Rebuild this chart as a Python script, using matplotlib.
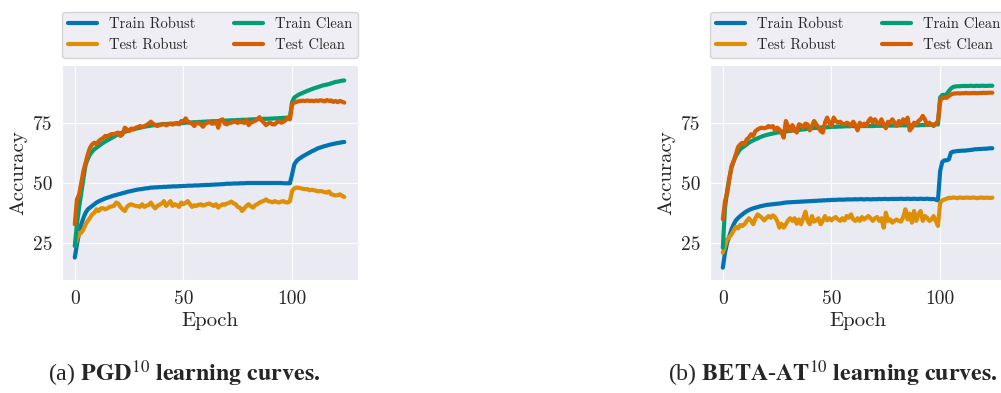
import numpy as np
import matplotlib
matplotlib.use("Agg")
import matplotlib.pyplot as plt
import seaborn as sns

# ---- data (accuracy in %, epochs 0..124) ----
epochs = np.arange(125)

pgd_train_robust = [
    19.1, 24.6, 29.4, 32.9, 35.6, 37.7, 39.1, 39.8, 40.5, 41.2,
    41.9, 42.4, 42.8, 43.2, 43.6, 43.9, 44.2, 44.5, 44.8, 45.0,
    45.3, 45.5, 45.8, 46.0, 46.3, 46.5, 46.7, 46.9, 47.1, 47.3,
    47.4, 47.5, 47.7, 47.8, 47.9, 48.1, 48.1, 48.2, 48.2, 48.3,
    48.3, 48.4, 48.4, 48.5, 48.5, 48.6, 48.6, 48.6, 48.7, 48.7,
    48.8, 48.8, 48.9, 48.9, 48.9, 49.0, 49.0, 49.0, 49.1, 49.1,
    49.2, 49.2, 49.2, 49.3, 49.3, 49.4, 49.4, 49.5, 49.5, 49.6,
    49.7, 49.7, 49.7, 49.8, 49.8, 49.8, 49.9, 49.9, 49.9, 50.0,
    50.0, 50.0, 50.0, 50.0, 50.0, 50.0, 50.0, 50.0, 50.0, 50.0,
    50.0, 50.0, 50.0, 50.0, 50.0, 50.0, 49.9, 49.9, 49.9, 49.9,
    53.6, 57.7, 59.1, 59.9, 60.5, 61.1, 61.6, 62.1, 62.6, 63.1,
    63.5, 64.0, 64.4, 64.7, 65.0, 65.3, 65.5, 65.8, 66.0, 66.2,
    66.4, 66.6, 66.7, 66.9, 67.0]
pgd_test_robust = [
    23.9, 26.7, 29.4, 29.4, 30.8, 32.9, 34.3, 35.6, 37.0, 37.7,
    39.1, 38.4, 39.5, 39.6, 39.1, 39.5, 40.1, 40.3, 40.5, 41.9,
    41.5, 40.1, 39.1, 38.4, 40.1, 40.9, 41.2, 40.8, 40.5, 40.4,
    40.1, 41.2, 40.1, 40.6, 40.9, 41.9, 40.5, 39.5, 40.5, 41.0,
    41.5, 42.5, 40.5, 41.5, 42.5, 40.5, 41.2, 40.8, 40.1, 41.9,
    41.2, 41.8, 42.5, 41.2, 40.1, 40.8, 40.5, 41.0, 41.2, 40.6,
    40.9, 41.3, 41.5, 40.9, 40.5, 41.2, 39.8, 40.6, 41.2, 41.0,
    41.5, 41.8, 42.3, 41.6, 41.2, 40.1, 39.8, 38.4, 39.5, 40.5,
    41.2, 40.4, 39.8, 40.8, 41.2, 41.9, 42.3, 42.6, 43.2, 42.5,
    42.3, 42.0, 42.5, 42.1, 41.9, 42.3, 42.5, 42.0, 41.9, 42.5,
    46.7, 47.8, 48.1, 48.0, 47.8, 47.6, 47.4, 47.5, 47.0, 47.2,
    47.0, 46.8, 46.5, 46.7, 46.5, 46.2, 46.0, 46.5, 45.3, 45.1,
    44.8, 45.0, 45.3, 44.7, 44.2]
pgd_train_clean = [
    23.9, 33.0, 40.0, 46.0, 52.0, 57.7, 60.0, 61.8, 63.0, 64.0,
    64.6, 65.3, 66.0, 66.6, 67.2, 67.7, 68.2, 68.7, 69.2, 69.7,
    70.2, 70.6, 70.9, 71.2, 71.5, 71.8, 72.1, 72.3, 72.5, 72.7,
    72.9, 73.1, 73.3, 73.5, 73.6, 73.8, 73.9, 74.0, 74.1, 74.2,
    74.3, 74.4, 74.4, 74.5, 74.5, 74.6, 74.6, 74.7, 74.7, 74.8,
    74.9, 75.0, 75.0, 75.1, 75.1, 75.2, 75.2, 75.3, 75.3, 75.4,
    75.4, 75.5, 75.5, 75.6, 75.6, 75.6, 75.7, 75.7, 75.8, 75.8,
    75.9, 75.9, 76.0, 76.0, 76.0, 76.1, 76.1, 76.2, 76.2, 76.2,
    76.3, 76.3, 76.4, 76.4, 76.4, 76.5, 76.5, 76.6, 76.6, 76.6,
    76.7, 76.7, 76.8, 76.8, 76.9, 76.9, 77.0, 77.0, 77.1, 77.3,
    83.5, 85.4, 86.0, 86.6, 87.0, 87.4, 87.8, 88.2, 88.5, 88.9,
    89.2, 89.5, 89.8, 90.1, 90.4, 90.6, 90.8, 91.0, 91.3, 91.6,
    91.9, 92.0, 92.2, 92.4, 92.5]
pgd_test_clean = [
    32.9, 43.2, 45.3, 50.1, 55.0, 58.4, 61.9, 64.6, 66.0, 66.7,
    66.0, 67.4, 68.1, 68.6, 69.5, 69.2, 69.9, 70.3, 70.2, 70.6,
    70.9, 69.5, 70.2, 72.9, 72.2, 71.5, 72.6, 72.2, 72.9, 73.2,
    73.6, 73.2, 73.6, 74.0, 74.6, 75.4, 74.6, 74.0, 73.6, 74.0,
    74.3, 74.5, 73.9, 74.3, 74.6, 74.2, 74.6, 74.9, 74.3, 75.7,
    75.4, 76.8, 75.4, 74.9, 74.6, 73.6, 75.0, 74.8, 74.3, 73.3,
    74.6, 75.0, 75.4, 74.6, 74.6, 75.7, 72.9, 76.0, 76.4, 74.6,
    74.3, 74.8, 75.0, 75.4, 75.4, 74.9, 75.7, 75.2, 74.9, 76.1,
    74.0, 75.0, 75.4, 75.8, 76.4, 77.3, 75.9, 75.0, 74.0, 74.7,
    75.0, 74.3, 74.3, 75.2, 75.7, 75.0, 75.4, 76.0, 77.1, 76.4,
    82.6, 83.3, 83.6, 83.9, 84.0, 84.1, 84.0, 84.2, 84.0, 84.1,
    83.9, 84.2, 84.0, 84.3, 84.1, 83.8, 84.4, 84.0, 84.2, 83.6,
    84.0, 83.5, 84.0, 83.7, 83.3]

beta_train_robust = [
    14.9, 21.1, 25.3, 28.0, 30.8, 32.9, 34.5, 35.5, 36.3, 37.0,
    37.7, 38.3, 38.8, 39.2, 39.5, 39.8, 40.0, 40.3, 40.5, 40.7,
    40.9, 41.0, 41.1, 41.2, 41.3, 41.4, 41.5, 41.6, 41.8, 41.9,
    42.0, 42.0, 42.1, 42.1, 42.2, 42.2, 42.3, 42.3, 42.4, 42.4,
    42.5, 42.5, 42.6, 42.6, 42.7, 42.7, 42.8, 42.8, 42.9, 42.9,
    43.0, 43.0, 43.0, 43.1, 43.1, 43.1, 43.1, 43.2, 43.2, 43.2,
    43.2, 43.3, 43.2, 43.3, 43.3, 43.2, 43.3, 43.3, 43.2, 43.3,
    43.3, 43.3, 43.4, 43.3, 43.4, 43.4, 43.3, 43.4, 43.4, 43.4,
    43.4, 43.4, 43.5, 43.4, 43.4, 43.5, 43.4, 43.4, 43.5, 43.4,
    43.4, 43.5, 43.4, 43.4, 43.5, 43.4, 43.3, 43.4, 43.1, 42.8,
    55.0, 58.8, 59.4, 59.4, 59.8, 62.6, 63.0, 63.1, 63.3, 63.3,
    63.4, 63.4, 63.5, 63.6, 63.7, 63.8, 64.0, 64.0, 64.1, 64.1,
    64.2, 64.2, 64.3, 64.4, 64.4]
beta_test_robust = [
    21.1, 23.9, 26.7, 27.6, 28.7, 30.4, 31.8, 31.2, 32.6, 32.2,
    32.9, 34.3, 35.4, 34.3, 32.9, 35.4, 37.0, 36.3, 35.6, 34.5,
    35.4, 36.3, 35.6, 36.6, 35.9, 34.3, 31.5, 33.1, 31.5, 32.9,
    34.5, 35.4, 34.3, 35.4, 33.1, 34.9, 32.9, 35.4, 38.1, 34.3,
    32.9, 36.3, 34.0, 34.5, 35.4, 32.9, 34.3, 36.3, 34.5, 35.4,
    34.5, 35.4, 35.9, 34.9, 34.3, 35.4, 34.5, 36.3, 35.6, 37.0,
    34.9, 34.3, 35.4, 34.3, 35.9, 34.9, 35.6, 36.3, 35.4, 34.3,
    35.4, 35.9, 34.3, 35.4, 31.5, 37.7, 34.3, 34.9, 33.6, 34.3,
    34.9, 34.3, 34.0, 35.9, 39.1, 34.9, 37.3, 33.6, 38.4, 34.3,
    37.0, 38.4, 34.3, 36.3, 35.6, 34.3, 34.9, 36.3, 34.3, 32.2,
    41.9, 42.8, 43.2, 43.5, 43.9, 43.8, 44.0, 43.9, 43.7, 44.0,
    43.9, 43.8, 44.0, 43.9, 43.8, 44.0, 43.9, 43.7, 43.9, 44.0,
    43.8, 43.9, 43.9, 43.8, 43.9]
beta_train_clean = [
    23.2, 39.8, 46.7, 52.2, 56.4, 59.1, 61.2, 62.7, 64.0, 64.7,
    65.3, 66.0, 66.7, 67.2, 67.7, 68.1, 68.5, 68.9, 69.3, 69.6,
    69.9, 70.1, 70.3, 70.5, 70.7, 70.9, 71.0, 71.1, 71.3, 71.4,
    71.5, 71.6, 71.7, 71.8, 71.9, 72.0, 72.1, 72.2, 72.3, 72.5,
    72.7, 72.7, 72.8, 72.8, 72.9, 73.0, 73.0, 73.1, 73.1, 73.2,
    73.3, 73.3, 73.3, 73.4, 73.4, 73.4, 73.5, 73.5, 73.5, 73.6,
    73.6, 73.6, 73.6, 73.6, 73.6, 73.6, 73.6, 73.6, 73.6, 73.6,
    73.7, 73.7, 73.7, 73.7, 73.7, 73.8, 73.8, 73.8, 73.8, 73.8,
    73.9, 73.9, 73.9, 73.9, 73.9, 73.9, 73.9, 73.9, 73.9, 73.9,
    73.9, 74.0, 74.0, 74.0, 74.1, 74.1, 74.2, 74.2, 74.3, 74.3,
    85.4, 86.5, 86.5, 86.8, 88.1, 89.2, 89.8, 90.0, 90.1, 90.1,
    90.2, 90.2, 90.2, 90.2, 90.3, 90.2, 90.2, 90.3, 90.2, 90.3,
    90.3, 90.2, 90.3, 90.3, 90.3]
beta_test_clean = [
    35.0, 42.5, 46.0, 51.5, 57.0, 59.1, 61.9, 64.9, 66.0, 66.7,
    66.0, 68.1, 68.8, 70.2, 69.5, 71.5, 72.2, 72.7, 72.9, 72.7,
    72.9, 73.6, 73.2, 73.6, 71.8, 72.9, 72.2, 70.9, 68.8, 75.7,
    73.6, 71.5, 74.0, 72.2, 70.9, 74.3, 74.0, 72.9, 74.6, 74.3,
    71.8, 73.6, 75.7, 74.3, 72.9, 71.5, 70.9, 75.0, 77.1, 75.0,
    73.6, 77.1, 75.7, 75.0, 75.4, 74.6, 74.3, 75.0, 74.6, 73.6,
    75.4, 74.0, 71.8, 75.0, 73.6, 74.6, 73.6, 75.7, 76.8, 75.0,
    76.4, 75.0, 74.3, 76.4, 74.3, 72.7, 75.4, 75.0, 76.4, 75.0,
    73.6, 75.7, 74.3, 76.4, 75.0, 77.1, 71.8, 72.9, 75.0, 74.3,
    75.7, 76.4, 77.8, 76.4, 74.0, 75.0, 74.3, 73.6, 74.6, 75.7,
    84.0, 85.4, 85.4, 85.3, 86.0, 86.7, 87.0, 87.1, 87.2, 87.1,
    87.2, 87.2, 87.3, 87.2, 87.2, 87.3, 87.3, 87.2, 87.3, 87.3,
    87.4, 87.3, 87.4, 87.4, 87.4]

labels = ["Train Robust", "Test Robust", "Train Clean", "Test Clean"]
colors = ["#0173B2", "#DE8F05", "#029E73", "#D55E00"]
x_ticks = [0, 50, 100]
y_ticks = [25, 50, 75]

# ---- style ----
sns.set_style("darkgrid")
plt.rcParams["font.family"] = "serif"
plt.rcParams["font.serif"] = ["cmr10", "DejaVu Serif"]
plt.rcParams["axes.unicode_minus"] = False
plt.rcParams["mathtext.fontset"] = "stix"

fig = plt.figure(figsize=(10.01, 3.93), dpi=100)

panels = [
    (0.0619, [pgd_train_robust, pgd_test_robust, pgd_train_clean, pgd_test_clean],
     r"$\mathbf{PGD}^{10}$ $\mathbf{learning\ curves.}$", "(a) ", 0.048),
    (0.7093, [beta_train_robust, beta_test_robust, beta_train_clean, beta_test_clean],
     r"$\mathbf{BETA}$-$\mathbf{AT}^{10}$ $\mathbf{learning\ curves.}$", "(b) ", 0.667),
]

for left, series, cap, tag, capx in panels:
    ax = fig.add_axes([left, 0.2875, 0.2957, 0.5471])
    for vals, lab, col in zip(series, labels, colors):
        ax.plot(epochs, vals, color=col, lw=3, label=lab)
    ax.set_xlim(-5.9, 130.3)
    ax.set_ylim(9.8, 98.9)
    ax.set_xticks(x_ticks)
    ax.set_yticks(y_ticks)
    ax.tick_params(labelsize=14, length=0, pad=7)
    ax.set_xlabel("Epoch", fontsize=15, labelpad=3)
    ax.set_ylabel("Accuracy", fontsize=15, labelpad=4)
    ax.legend(loc="lower left", bbox_to_anchor=(0, 1.0326, 1, 0.2326),
              mode="expand", ncol=2, borderaxespad=0, fontsize=10.5,
              handlelength=2.0)
    fig.text(capx, 0.03, tag + cap, fontsize=17.3, family="Liberation Serif",
             ha="left", va="baseline")

fig.savefig("out.png", dpi=100)
